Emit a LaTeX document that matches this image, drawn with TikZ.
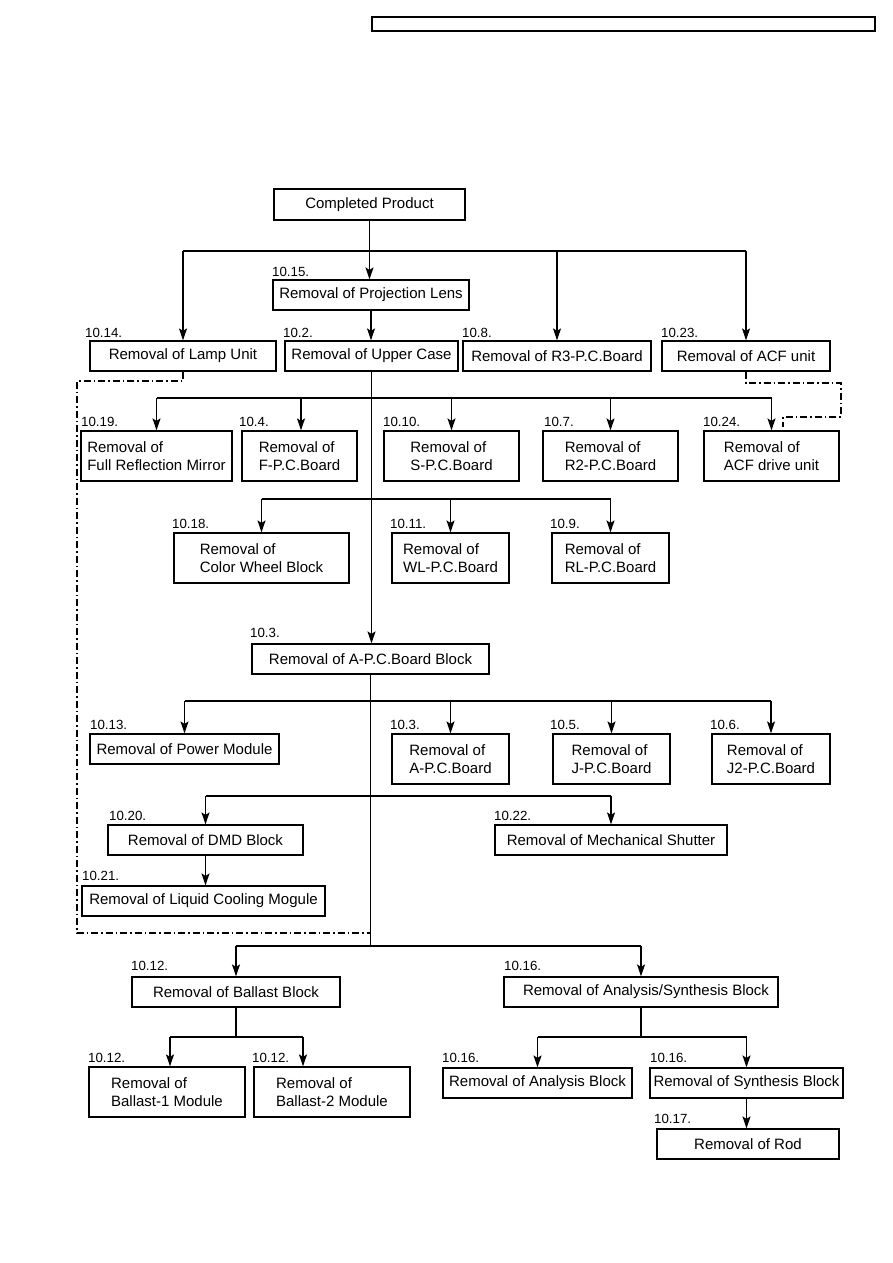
\documentclass[tikz,border=0pt]{standalone}
\usepackage{fontspec}
\setmainfont{Liberation Sans}
\usetikzlibrary{arrows.meta}
\newcommand\bxf{\fontsize{15}{18}\selectfont}
\newcommand\lbf{\fontsize{13.3}{15}\selectfont}
\newcommand\bx[6]{\node[box, minimum width={(#4-#2)*1pt}, minimum height={(#5-#3)*1pt}] (#1) at ({(#2+#4)/2},{(#3+#5)/2}) {#6};}
\tikzset{
  box/.style={draw, line width=1.2pt, inner sep=0pt, font=\bxf, align=left},
  lbl/.style={anchor=base west, inner sep=0pt, font=\lbf},
  ln/.style={line width=1.2pt},
  arr/.style={line width=1.2pt, -{Stealth[length=12pt,width=8pt,inset=2.5pt]}},
  dd/.style={line width=1.1pt, dash pattern=on 7pt off 3pt on 1.5pt off 3pt}
}
\begin{document}
\begin{tikzpicture}[x=1pt,y=-1pt]
\fill[white] (0,0) rectangle (893,1263);
\node[draw, line width=1.4pt, minimum width=503pt, minimum height=14pt, inner sep=0pt] (header) at (623.5,24) {};
% boxes
\bx{cp}{274}{189}{465}{220}{Completed Product}
\bx{lens}{273}{280}{469}{310}{Removal of Projection Lens}
\bx{lamp}{90}{341}{276}{371}{Removal of Lamp Unit}
\bx{upper}{285}{341}{458}{371}{Removal of Upper Case}
\bx{r3}{463}{341}{651}{371}{Removal of R3-P.C.Board}
\bx{acf}{662}{341}{830}{371}{Removal of ACF unit}
\bx{frm}{81}{431}{232}{481}{Removal of\\Full Reflection Mirror}
\bx{fpcb}{242}{431}{357}{481}{Removal of\\F-P.C.Board}
\bx{spcb}{384}{431}{519}{481}{Removal of\\S-P.C.Board}
\bx{r2}{543}{431}{678}{481}{Removal of\\R2-P.C.Board}
\bx{acfd}{704}{431}{839}{481}{Removal of\\ACF drive unit}
\bx{cw}{174}{533}{349}{583}{Removal of\\Color Wheel Block}
\bx{wl}{392}{533}{509}{583}{Removal of\\WL-P.C.Board}
\bx{rl}{552}{533}{669}{583}{Removal of\\RL-P.C.Board}
\bx{apcbb}{252}{644}{489}{674}{Removal of A-P.C.Board Block}
\bx{power}{90}{734}{279}{764}{Removal of Power Module}
\bx{apcb}{392}{734}{509}{784}{Removal of\\A-P.C.Board}
\bx{jpcb}{553}{734}{670}{784}{Removal of\\J-P.C.Board}
\bx{jtwo}{712}{734}{830}{784}{Removal of\\J2-P.C.Board}
\bx{dmd}{108}{825}{303}{855}{Removal of DMD Block}
\bx{liq}{82}{886}{325}{916}{Removal of Liquid Cooling Mogule}
\bx{mech}{495}{825}{727}{855}{Removal of Mechanical Shutter}
\bx{ballast}{132}{977}{340}{1007}{Removal of Ballast Block}
\bx{anasyn}{504}{977}{778}{1007}{\hspace*{10pt}Removal of Analysis/Synthesis Block}
\bx{bone}{89}{1067}{245}{1117}{Removal of\\Ballast-1 Module}
\bx{btwo}{254}{1067}{410}{1117}{Removal of\\Ballast-2 Module}
\bx{ana}{443}{1068}{632}{1098}{Removal of Analysis Block}
\bx{syn}{650}{1068}{843}{1098}{Removal of Synthesis Block}
\bx{rod}{657}{1129}{839}{1159}{Removal of Rod}
% labels
\node[lbl] (t1) at (272,276) {10.15.};
\node[lbl] (t2) at (85,337) {10.14.};
\node[lbl] (t3) at (283,337) {10.2.};
\node[lbl] (t4) at (462,337) {10.8.};
\node[lbl] (t5) at (661,337) {10.23.};
\node[lbl] (t6) at (81,426) {10.19.};
\node[lbl] (t7) at (239,426) {10.4.};
\node[lbl] (t8) at (383,426) {10.10.};
\node[lbl] (t9) at (544,426) {10.7.};
\node[lbl] (t10) at (703,426) {10.24.};
\node[lbl] (t11) at (172,528) {10.18.};
\node[lbl] (t12) at (390,528) {10.11.};
\node[lbl] (t13) at (550,528) {10.9.};
\node[lbl] (t14) at (250,637) {10.3.};
\node[lbl] (t15) at (90,729) {10.13.};
\node[lbl] (t16) at (390,729) {10.3.};
\node[lbl] (t17) at (550,729) {10.5.};
\node[lbl] (t18) at (710,729) {10.6.};
\node[lbl] (t19) at (109,820) {10.20.};
\node[lbl] (t20) at (494,820) {10.22.};
\node[lbl] (t21) at (82,880) {10.21.};
\node[lbl] (t22) at (131,970) {10.12.};
\node[lbl] (t23) at (504,970) {10.16.};
\node[lbl] (t24) at (88,1062) {10.12.};
\node[lbl] (t25) at (252,1062) {10.12.};
\node[lbl] (t26) at (442,1062) {10.16.};
\node[lbl] (t27) at (650,1062) {10.16.};
\node[lbl] (t28) at (654,1123) {10.17.};
% connectors: level 1
\draw[arr] (cp.south) -- (cp.south |- lens.north);
\draw[ln] (lamp.north |- 0,251) -- (acf.north |- 0,251);
\draw[arr] (lamp.north |- 0,251) -- (lamp.north);
\draw[arr] (r3.north |- 0,251) -- (r3.north);
\draw[arr] (acf.north |- 0,251) -- (acf.north);
\draw[arr] (lens.south) -- (lens.south |- upper.north);
% main vertical
\draw[arr] (upper.south) -- (upper.south |- apcbb.north);
% level 2
\draw[ln] (frm.north |- 0,398) -- (acfd.north |- 0,398);
\draw[arr] (frm.north |- 0,398) -- (frm.north);
\draw[arr] (301,398) -- (fpcb.north -| 301,0);
\draw[arr] (spcb.north |- 0,398) -- (spcb.north);
\draw[arr] (r2.north |- 0,398) -- (r2.north);
\draw[arr] (acfd.north |- 0,398) -- (acfd.north);
% level 3
\draw[ln] (cw.north |- 0,499) -- (rl.north |- 0,499);
\draw[arr] (cw.north |- 0,499) -- (cw.north);
\draw[arr] (wl.north |- 0,499) -- (wl.north);
\draw[arr] (rl.north |- 0,499) -- (rl.north);
% below A-PCB block
\draw[ln] (apcbb.south) -- (apcbb.south |- 0,946);
\draw[ln] (power.north |- 0,701) -- (jtwo.north |- 0,701);
\draw[arr] (power.north |- 0,701) -- (power.north);
\draw[arr] (apcb.north |- 0,701) -- (apcb.north);
\draw[arr] (jpcb.north |- 0,701) -- (jpcb.north);
\draw[arr] (jtwo.north |- 0,701) -- (jtwo.north);
\draw[ln] (dmd.north |- 0,796) -- (mech.north |- 0,796);
\draw[arr] (dmd.north |- 0,796) -- (dmd.north);
\draw[arr] (mech.north |- 0,796) -- (mech.north);
\draw[arr] (dmd.south) -- (dmd.south |- liq.north);
% bottom
\draw[ln] (ballast.north |- 0,946) -- (anasyn.north |- 0,946);
\draw[arr] (ballast.north |- 0,946) -- (ballast.north);
\draw[arr] (anasyn.north |- 0,946) -- (anasyn.north);
\draw[ln] (ballast.south) -- (ballast.south |- 0,1037);
\draw[ln] (170,1037) -- (303,1037);
\draw[arr] (170,1037) -- (bone.north -| 170,0);
\draw[arr] (303,1037) -- (btwo.north -| 303,0);
\draw[ln] (anasyn.south) -- (anasyn.south |- 0,1037);
\draw[ln] (ana.north |- 0,1037) -- (syn.north |- 0,1037);
\draw[arr] (ana.north |- 0,1037) -- (ana.north);
\draw[arr] (syn.north |- 0,1037) -- (syn.north);
\draw[arr] (syn.south) -- (syn.south |- rod.north);
% dash-dot
\draw[dd] (lamp.south) -- (lamp.south |- 0,381) -- (77,381) -- (77,933) -- (apcbb.south |- 0,933);
\draw[dd] (acf.south) -- (acf.south |- 0,383) -- (841,383) -- (841,417) -- (783,417) -- (783,427);
\end{tikzpicture}
\end{document}
